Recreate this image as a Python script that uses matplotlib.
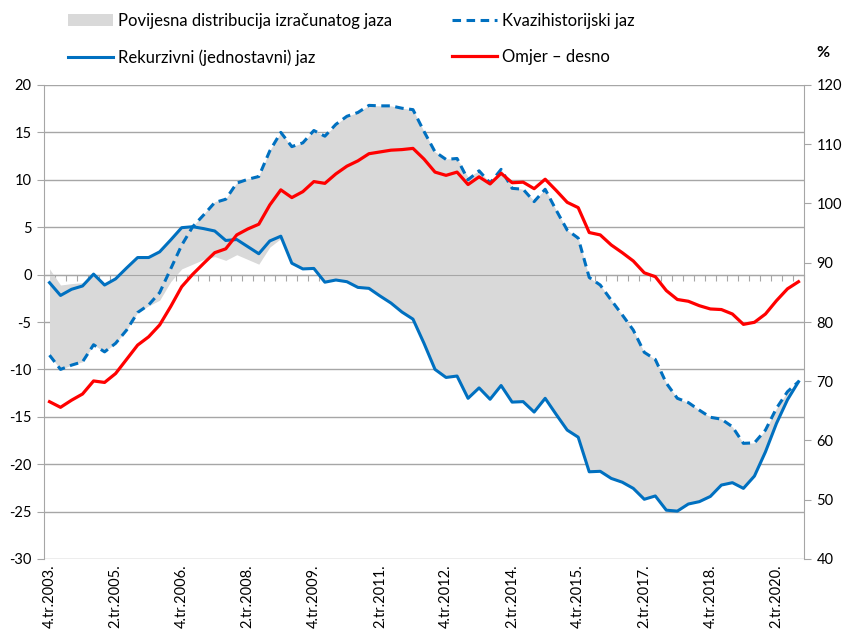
import numpy as np
import matplotlib
matplotlib.use("Agg")
import matplotlib.pyplot as plt
import matplotlib.transforms as mtransforms
from matplotlib.patches import Patch
from matplotlib.lines import Line2D

plt.rcParams['font.family'] = ['Lato', 'DejaVu Sans']

# ---- categories (quarters 4.tr.2003. .. 4.tr.2020.) ----
quarters = []
_y, _q = 2003, 4
for _ in range(69):
    quarters.append(f"{_q}.tr.{_y}.")
    _q += 1
    if _q > 4:
        _q = 1
        _y += 1

# ---- series ----
rekurzivni = [-0.85, -2.2, -1.55, -1.2, 0.05, -1.1, -0.45, 0.7, 1.8, 1.8, 2.4, 3.65, 4.95, 5.05, 4.85, 4.6, 3.6,
              3.7, 2.95, 2.2, 3.55, 4.05, 1.2, 0.6, 0.65, -0.8, -0.57, -0.75, -1.35, -1.45, -2.25, -3.0, -3.95, -4.7,
              -7.25, -10.0, -10.85, -10.7, -13.05, -11.95, -13.15, -11.7, -13.45, -13.4, -14.5, -13.05, -14.75, -16.4,
              -17.15, -20.8, -20.75, -21.5, -21.9, -22.55, -23.7, -23.35, -24.85, -24.95, -24.2, -23.95, -23.4, -22.2,
              -21.95, -22.55, -21.25, -18.7, -15.7, -13.2, -11.3]

kvazihistorijski = [-8.5, -10.0, -9.55, -9.2, -7.4, -8.15, -7.25, -5.85, -4.0, -3.2, -1.9, 0.6, 3.1, 5.05, 6.3, 7.6,
                    7.95, 9.65, 10.05, 10.35, 13.05, 15.0, 13.5, 13.9, 15.2, 14.6, 15.85, 16.7, 17.1, 17.85, 17.8, 17.8,
                    17.55, 17.4, 15.1, 12.95, 12.15, 12.25, 10.0, 10.95, 9.65, 11.1, 9.1, 9.0, 7.7, 9.0, 6.8, 4.7, 3.85,
                    -0.3, -1.1, -2.7, -4.25, -5.85, -8.2, -8.95, -11.45, -13.05, -13.5, -14.3, -15.05, -15.25, -16.05,
                    -17.8, -17.75, -16.4, -14.1, -12.35, -11.3]

omjer = [66.55, 65.6, 66.8, 67.85, 70.05, 69.8, 71.3, 73.7, 76.1, 77.5, 79.5, 82.6, 85.95, 88.05, 89.9, 91.7, 92.35,
         94.7, 95.7, 96.5, 99.75, 102.3, 101.0, 102.0, 103.7, 103.4, 105.0, 106.3, 107.2, 108.4, 108.7, 109.0, 109.1,
         109.3, 107.5, 105.3, 104.75, 105.3, 103.2, 104.5, 103.3, 105.1, 103.5, 103.6, 102.5, 104.1, 102.2, 100.2, 99.3,
         95.1, 94.7, 93.0, 91.7, 90.3, 88.3, 87.65, 85.3, 83.8, 83.5, 82.75, 82.2, 82.1, 81.35, 79.6, 79.95, 81.35,
         83.6, 85.6, 86.8]

distribucija_max = [0.6, -1.1, -0.95, -0.85, 0.05, -1.1, -0.45, 0.7, 1.8, 1.8, 2.4, 3.65, 4.95, 5.1, 6.4, 7.7, 8.0,
                    9.7, 10.1, 10.4, 13.1, 15.0, 13.5, 13.9, 15.2, 14.6, 15.85, 16.7, 17.1, 17.85, 17.8, 17.8, 17.55,
                    17.4, 15.1, 12.95, 12.2, 12.25, 10.3, 10.95, 9.7, 11.1, 9.2, 9.0, 7.8, 9.0, 6.8, 4.7, 3.85, -0.3,
                    -1.1, -2.7, -4.25, -5.85, -8.2, -8.95, -11.45, -13.05, -13.5, -14.3, -15.05, -15.25, -16.05, -17.8,
                    -17.75, -16.4, -14.1, -12.35, -11.3]

distribucija_min = [-8.5, -10.0, -9.55, -9.2, -7.4, -8.15, -7.25, -5.85, -4.0, -3.3, -2.7, -0.75, 0.6, 1.1, 1.6, 1.9,
                    1.5, 2.1, 1.6, 1.1, 2.9, 3.8, 1.2, 0.6, 0.65, -0.8, -0.57, -0.75, -1.35, -1.45, -2.25, -3.0, -3.95,
                    -4.7, -7.25, -10.0, -10.85, -10.7, -13.05, -11.95, -13.15, -11.7, -13.45, -13.4, -14.5, -13.05,
                    -14.75, -16.4, -17.15, -20.8, -20.75, -21.5, -21.9, -22.55, -23.7, -23.35, -24.85, -24.95, -24.2,
                    -23.95, -23.4, -22.2, -21.95, -22.55, -21.25, -18.7, -15.7, -13.2, -11.3]

left_ticks = [-30, -25, -20, -15, -10, -5, 0, 5, 10, 15, 20]
right_ticks = [40, 50, 60, 70, 80, 90, 100, 110, 120]
label_every = 6

labels = ["Povijesna distribucija izračunatog jaza", "Kvazihistorijski jaz",
          "Rekurzivni (jednostavni) jaz", "Omjer – desno"]

# ---- styling ----
BLUE = '#0070C0'
RED = '#FF0000'
FILL = '#D9D9D9'
GRID = '#A6A6A6'
FS = 10.5
LFS = 12

fig = plt.figure(figsize=(8.55, 6.32), dpi=100)
ax = fig.add_axes([44 / 855, 1 - 559 / 632, 760 / 855, 474 / 632])
ax2 = ax.twinx()

x = np.arange(len(quarters))

ax.fill_between(x, distribucija_min, distribucija_max, color=FILL, lw=0, zorder=1)
ax.plot(x, kvazihistorijski, color=BLUE, lw=2.2, linestyle=(0, (2.8, 1.8)), zorder=3)
ax.plot(x, rekurzivni, color=BLUE, lw=2.2, zorder=4, solid_joinstyle='round')
ax2.plot(x, omjer, color=RED, lw=2.3, zorder=4, solid_joinstyle='round')

ax.set_xlim(-0.5, len(quarters) - 0.5)
ax.set_ylim(-30, 20)
ax2.set_ylim(40, 120)

ax.set_yticks(left_ticks)
ax.set_yticklabels([str(v) for v in left_ticks], fontsize=FS)
ax2.set_yticks(right_ticks)
ax2.set_yticklabels([str(v) for v in right_ticks], fontsize=FS)

ax.set_axisbelow(True)
ax.yaxis.grid(True, color=GRID, lw=1)

for s in ['top', 'right']:
    ax.spines[s].set_visible(False)
for s in ['top', 'left', 'bottom']:
    ax2.spines[s].set_visible(False)
ax.spines['left'].set_color(GRID)
ax2.spines['right'].set_color(GRID)
ax.spines['bottom'].set_position(('data', 0))
ax.spines['bottom'].set_color(GRID)
ax.spines['bottom'].set_zorder(2.5)

ax.set_xticks(np.arange(-0.5, len(quarters), 1))
ax.tick_params(axis='x', direction='out', length=4, color=GRID, labelbottom=False)
ax.tick_params(axis='y', direction='out', length=5, color=GRID, pad=4, labelcolor='black')
ax2.tick_params(axis='y', direction='out', length=5, color=GRID, pad=4, labelcolor='black')

trans = mtransforms.blended_transform_factory(ax.transData, ax.transAxes)
for i in range(0, len(quarters), label_every):
    ax.text(i, -0.012, quarters[i], rotation=90, ha='center', va='top',
            fontsize=FS, transform=trans)

fig.text(816 / 855, 1 - 53 / 632, '%', fontsize=11.5, fontweight='bold', ha='left', va='center')

handles = [Patch(facecolor=FILL, edgecolor='none'),
           Line2D([], [], color=BLUE, lw=2.2),
           Line2D([], [], color=BLUE, lw=2.2, linestyle=(0, (2.8, 1.8))),
           Line2D([], [], color=RED, lw=2.3)]
fig.legend(handles, [labels[0], labels[2], labels[1], labels[3]],
           loc='upper left', bbox_to_anchor=(68 / 855, 1 - 13 / 632), ncol=2, frameon=False,
           fontsize=LFS, handlelength=2.7, handleheight=0.75, handletextpad=0.3, columnspacing=3.6,
           labelspacing=1.2, borderpad=0, borderaxespad=0)

fig.savefig('out.png', dpi=100)
